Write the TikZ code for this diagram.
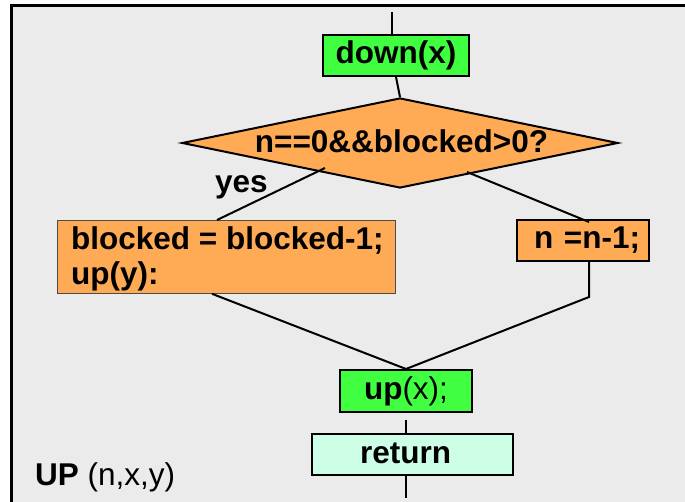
\documentclass[tikz,border=0pt]{standalone}
\usepackage{fontspec}
\setmainfont{Liberation Sans}
\usetikzlibrary{shapes.geometric}
\definecolor{bgc}{HTML}{EBEBEB}
\definecolor{grn}{HTML}{40FF40}
\definecolor{org}{HTML}{FFAA55}
\definecolor{mint}{HTML}{CCFFE5}
\tikzset{
  conn/.style={line width=2pt, black},
  boxed/.style={draw=black, line width=2pt, inner ysep=0pt, text height=22pt, text depth=5pt},
  txt/.style={inner sep=0pt},
}
\begin{document}
\begin{tikzpicture}[x=1pt,y=-1pt, font=\fontsize{31.5}{35}\selectfont\bfseries]
\useasboundingbox (0,0) rectangle (685,502);
\fill[white] (0,0) rectangle (685,502);
\fill[bgc] (11,6) rectangle (685,502);
\draw[line width=3pt] (685,6) -- (11,6) -- (11,502);

% nodes
\coordinate (topc) at (392,12);
\node[boxed, fill=grn, minimum width=146pt, minimum height=41pt] (down) at (396,55.5) {down(x)};
\node[diamond, draw=black, line width=2pt, fill=org, minimum width=436pt, minimum height=90pt, inner sep=0pt] (dia) at (400,143) {};
\node[txt, anchor=base] (diat) at (401.5,153) {n==0\&\&blocked>0?};
\node[txt, anchor=base west] (yes) at (215,193) {yes};
\node[draw={black!70}, line width=0.8pt, fill=org, anchor=north west, minimum width=338pt, minimum height=73pt] (lb) at (57,220) {};
\node[txt, anchor=base west] (lbt1) at (71,250) {blocked = blocked-1;};
\node[txt, anchor=base west] (lbt2) at (71,285) {up(y):};
\node[boxed, fill=org, minimum width=132pt, minimum height=41pt, text width=114pt, inner xsep=9pt, align=right] (rb) at (583,240.5) {n =n-1;};
\node[boxed, fill=grn, minimum width=132pt, minimum height=42pt] (upx) at (406,391) {up{\mdseries(x);}};
\node[boxed, fill=mint, minimum width=201pt, minimum height=41pt, text width=105pt, inner xsep=48pt, align=left] (ret) at (412.5,454.5) {return};
\node[txt, anchor=base west] (title) at (35,485) {UP {\mdseries(n,x,y)}};

% connectors
\coordinate (ya) at (325,168);
\coordinate (na) at (467,172);
\coordinate (rbend) at (589,297);
\draw[conn] (topc) -- (down.north -| topc);
\draw[conn] (down.south) -- (dia.north);
\draw[conn] (ya) -- ([xshift=160pt]lb.north west);
\draw[conn] (na) -- ([xshift=6pt,yshift=-3pt]rb.north);
\draw[conn] ([xshift=155pt]lb.south west) -- (upx.north);
\draw[conn] (rb.south -| rbend) -- (rbend) -- (upx.north);
\draw[conn] ([yshift=-7pt]upx.south) -- (ret.north -| upx.south);
\draw[conn] (ret.south -| upx.south) -- ++(0,22);
\end{tikzpicture}
\end{document}
